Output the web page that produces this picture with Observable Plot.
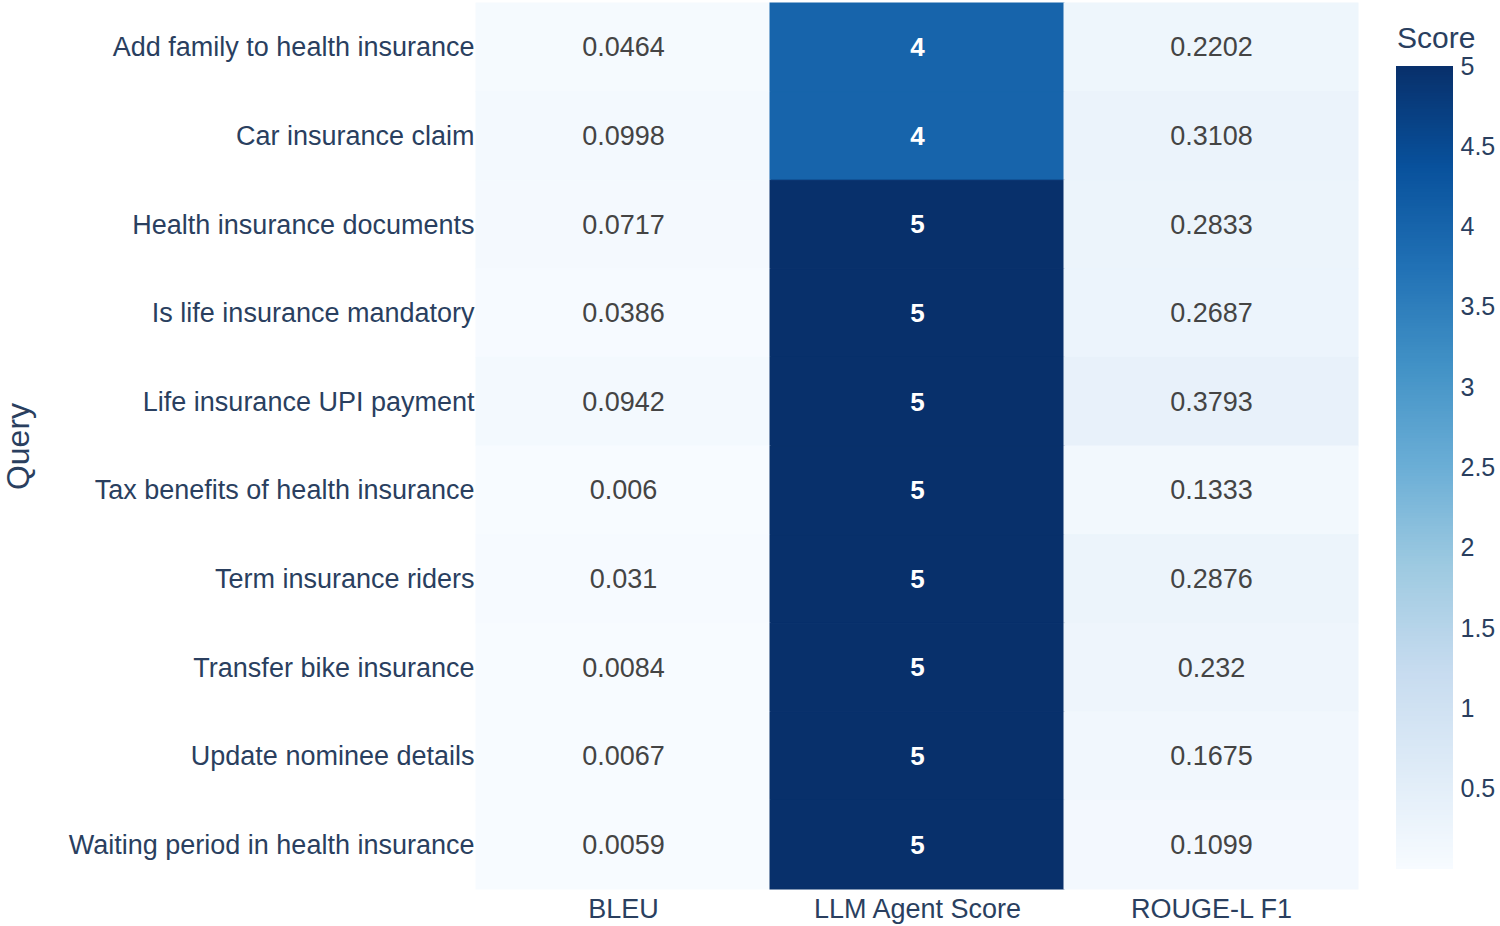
<!DOCTYPE html>
<html>
<head>
<meta charset="utf-8">
<script src="https://cdn.jsdelivr.net/npm/d3@7"></script>
<script src="https://cdn.jsdelivr.net/npm/@observablehq/plot@0.6"></script>
<style>
  html, body { margin: 0; padding: 0; background: #fff; }
  #wrap { position: relative; width: 1500px; height: 926px; font-family: "Liberation Sans", Arial, sans-serif; }
  #main { position: absolute; left: 0; top: 0; }
  #legend { position: absolute; left: 1380px; top: 0; }
  #legendTitle { position: absolute; left: 1397px; top: 23px; font-size: 30px; color: #2a3f5f; line-height: 1; }
</style>
</head>
<body>
<div id="wrap">
  <div id="main"></div>
  <div id="legend"></div>
  <div id="legendTitle">Score</div>
</div>
<script>
const queries = [
  "Add family to health insurance",
  "Car insurance claim",
  "Health insurance documents",
  "Is life insurance mandatory",
  "Life insurance UPI payment",
  "Tax benefits of health insurance",
  "Term insurance riders",
  "Transfer bike insurance",
  "Update nominee details",
  "Waiting period in health insurance"
];
const metrics = ["BLEU", "LLM Agent Score", "ROUGE-L F1"];
const bleu  = [0.0464, 0.0998, 0.0717, 0.0386, 0.0942, 0.006, 0.031, 0.0084, 0.0067, 0.0059];
const llm   = [4, 4, 5, 5, 5, 5, 5, 5, 5, 5];
const rouge = [0.2202, 0.3108, 0.2833, 0.2687, 0.3793, 0.1333, 0.2876, 0.232, 0.1675, 0.1099];
const legendTicks = [0.5, 1, 1.5, 2, 2.5, 3, 3.5, 4, 4.5, 5];

const blues = ["rgb(247,251,255)","rgb(222,235,247)","rgb(198,219,239)","rgb(158,202,225)",
  "rgb(107,174,214)","rgb(66,146,198)","rgb(33,113,181)","rgb(8,81,156)","rgb(8,48,107)"];
const interp = d3.piecewise(d3.interpolateRgb, blues);

const series = [bleu, llm, rouge];
const cells = [];
queries.forEach((q, i) => {
  metrics.forEach((m, j) => cells.push({query: q, metric: m, value: series[j][i]}));
});
const all = cells.map(d => d.value);
const vmin = d3.min(all), vmax = d3.max(all);
const colorOpts = {type: "linear", domain: [vmin, vmax], interpolate: interp};
const dark = d => d.value > 2.5;

const labelColor = "#2a3f5f";

const main = Plot.plot({
  width: 1380,
  height: 926,
  marginLeft: 476,
  marginRight: 22,
  marginTop: 3,
  marginBottom: 37,
  style: {fontFamily: "'Liberation Sans', Arial, sans-serif", background: "#fff"},
  x: {domain: metrics, padding: 0, round: false, label: null},
  y: {domain: queries, padding: 0, round: false, label: null},
  color: colorOpts,
  marks: [
    Plot.cell(cells, {x: "metric", y: "query", fill: "value", stroke: "value", strokeWidth: 1}),
    Plot.text(cells.filter(d => !dark(d)), {
      x: "metric", y: "query",
      text: d => String(d.value),
      fill: "#444444",
      fontSize: 27
    }),
    Plot.text(cells.filter(dark), {
      x: "metric", y: "query",
      text: d => String(d.value),
      fill: "#ffffff",
      fontWeight: "bold",
      fontSize: 26
    }),
    Plot.axisX({tickSize: 0, tickPadding: 9, fontSize: 27, color: labelColor, label: null}),
    Plot.axisY({tickSize: 0, tickPadding: 2, fontSize: 27, color: labelColor, label: null}),
    Plot.text(["Query"], {frameAnchor: "left", dx: -458, rotate: -90, textAnchor: "middle", fontSize: 32, fill: labelColor})
  ]
});
document.getElementById("main").appendChild(main);

// colour bar
const N = 300;
const steps = d3.range(0, N).map(i => vmin + (vmax - vmin) * i / N);
const stepH = (vmax - vmin) / N;
const legend = Plot.plot({
  width: 120,
  height: 926,
  marginLeft: 16,
  marginRight: 48,
  marginTop: 66,
  marginBottom: 58,
  style: {fontFamily: "'Liberation Sans', Arial, sans-serif", background: "transparent"},
  x: {domain: [0, 1], axis: null},
  y: {domain: [vmin, vmax], label: null},
  color: colorOpts,
  marks: [
    Plot.rect(steps, {x1: 0, x2: 1, y1: d => d, y2: d => Math.min(vmax, d + stepH), fill: d => d + stepH / 2, stroke: d => d + stepH / 2, strokeWidth: 1, shapeRendering: "crispEdges"}),
    Plot.axisY({anchor: "right", ticks: legendTicks, tickSize: 0, tickPadding: 8, fontSize: 25, color: labelColor, label: null, tickFormat: d => String(d)})
  ]
});
document.getElementById("legend").appendChild(legend);
</script>
</body>
</html>
